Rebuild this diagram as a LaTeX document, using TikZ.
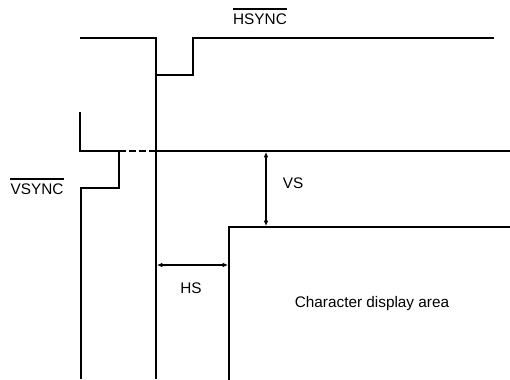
\documentclass[tikz,border=0pt]{standalone}
\usepackage{fontspec}
\setmainfont{Liberation Sans}
\usetikzlibrary{arrows.meta}
\begin{document}
\begin{tikzpicture}[x=0.75pt,y=-0.75pt,
  sig/.style={line width=1.5pt, line join=miter},
  lbl/.style={inner sep=0pt, font=\fontsize{11.5}{13}\selectfont, anchor=base},
  ovl/.style={line width=0.9pt},
  dim/.style={line width=1pt, {Latex[length=4pt,width=3.5pt]}-{Latex[length=4pt,width=3.5pt]}}]
\useasboundingbox (0,0) rectangle (510,379);
% HSYNC waveform
\draw[sig] (80,38) -- (156,38) -- (156,75) -- (193,75) -- (193,38) -- (494,38);
\draw[sig] (156,75) -- (156,379);
% VSYNC waveform
\draw[sig] (80,112) -- (80,151) -- (119,151) -- (119,188) -- (81,188) -- (81,379);
\draw[sig, dashed, dash pattern=on 5pt off 2.5pt] (119,151) -- (156,151);
\draw[sig] (156,151) -- (512,151);
% character display area
\draw[sig] (229,380) -- (229,227) -- (512,227);
% dimensions
\coordinate (vsA) at (266,152);
\coordinate (vsB) at (266,226);
\coordinate (hsA) at (157,265);
\coordinate (hsB) at (228,265);
\draw[dim] (vsA) -- (vsB);
\draw[dim] (hsA) -- (hsB);
% labels
\node[lbl] (hsync) at (260,24) {HSYNC};
\draw[ovl] ([yshift=3pt]hsync.north west) -- ([yshift=3pt]hsync.north east);
\node[lbl] (vsync) at (37,194) {VSYNC};
\draw[ovl] ([yshift=3pt]vsync.north west) -- ([yshift=3pt]vsync.north east);
\node[lbl] (vs) at (293,188) {VS};
\node[lbl] (hs) at (191,293) {HS};
\node[lbl] (cda) at (372,307) {Character display area};
\end{tikzpicture}
\end{document}
